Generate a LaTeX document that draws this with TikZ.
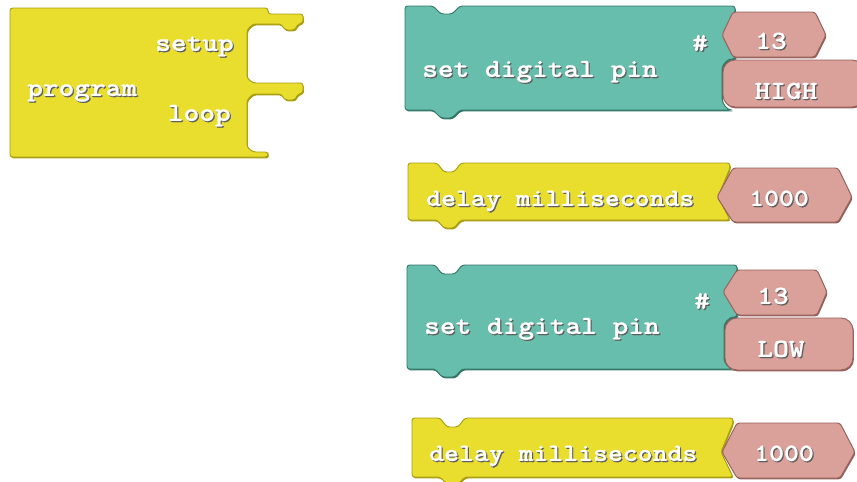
\documentclass[tikz,border=0pt]{standalone}
\usepackage{fontspec}
\newfontfamily\blkfont{lmmonolt10-bold.otf}[FakeStretch=1.15, FakeBold=0.9]
\usetikzlibrary{positioning}

\definecolor{blkyel}{RGB}{233,221,46}
\definecolor{blkyeldk}{RGB}{168,158,18}
\definecolor{blkteal}{RGB}{103,190,172}
\definecolor{blktealdk}{RGB}{52,118,103}
\definecolor{blkpink}{RGB}{218,160,154}
\definecolor{blkpinkdk}{RGB}{150,96,90}
\definecolor{txtshade}{RGB}{95,95,95}

\newcommand\shtxt[1]{\leavevmode\rlap{\kern0.9pt\raisebox{-0.9pt}{\textcolor{txtshade}{#1}}}#1}

\tikzset{
  yelblk/.style={fill=blkyel, draw=blkyeldk, line width=0.7pt, rounded corners=2pt,
    preaction={fill=blkyeldk, transform canvas={shift={(0.9,1.4)}}}},
  tealblk/.style={fill=blkteal, draw=blktealdk, line width=0.7pt, rounded corners=2pt,
    preaction={fill=blktealdk, transform canvas={shift={(0.9,1.4)}}}},
  pinkblk/.style={fill=blkpink, draw=blkpinkdk, line width=0.7pt, rounded corners=2pt,
    preaction={fill=blkpinkdk, transform canvas={shift={(0.9,1.4)}}}},
  lbl/.style={inner sep=0pt, text=white, font=\blkfont\fontsize{19.5}{20}\selectfont,
    text height=1.45ex, text depth=0.45ex, yshift=-4.5pt},
  dlbl/.style={lbl, font=\blkfont\fontsize{18.5}{20}\selectfont}
}

\begin{document}
\begin{tikzpicture}[x=0.75pt, y=-0.75pt]
  \useasboundingbox (0,0) rectangle (857,482);

  % program block
  \draw[yelblk] (10,8) -- (268,8) -- (268,14) -- (303,14) -- (303,23) -- (298,24)
    -- (295,30) -- (285,30) -- (281,24) -- (253,24) -- (247,30) -- (247,78)
    -- (253,83) -- (303,83) -- (303,93) -- (298,94) -- (295,100) -- (285,100)
    -- (281,94) -- (253,94) -- (247,100) -- (247,147) -- (253,152) -- (268,152)
    -- (268,157) -- (10,157) -- cycle;
  \node[lbl, anchor=west] (prog) at (27,87) {\shtxt{program}};
  \node[lbl, anchor=east] (setup) at (234,42) {\shtxt{setup}};
  \node[lbl, anchor=east] (loop) at (231,112) {\shtxt{loop}};

  % set digital pin HIGH
  \draw[tealblk] (405,6) -- (433,6) -- (441,14) -- (452,14) -- (460,6) -- (735,6)
    -- (735,13) -- (724,35) -- (735,57) -- (735,59) -- (734,59)
    to[out=180,in=90] (722,72) -- (722,96) to[out=-90,in=180] (734,110)
    -- (460,110) -- (452,118) -- (441,118) -- (433,110) -- (405,110) -- cycle;
  \draw[pinkblk] (722,35) -- (733,12) -- (815,12) -- (826,35) -- (815,57) -- (733,57) -- cycle;
  \draw[pinkblk, rounded corners=9pt] (723,60) rectangle (864,107);
  \node[lbl, anchor=west] (pin1) at (422,68) {\shtxt{set digital pin}};
  \node[lbl] (hash1) at (700,42) {\shtxt{\#}};
  \node[lbl] (num1) at (771,40) {\shtxt{13}};
  \node[lbl] (high) at (786,90) {\shtxt{HIGH}};

  % delay 1
  \draw[yelblk] (408,163) -- (437,163) -- (444,172) -- (454,172) -- (461,163)
    -- (730,163) -- (730,168) -- (718,197) -- (730,220) -- (461,220) -- (454,228)
    -- (444,228) -- (437,220) -- (408,220) -- cycle;
  \draw[pinkblk] (717,197) -- (733,168) -- (838,168) -- (852,197) -- (838,222) -- (733,222) -- cycle;
  \node[dlbl, anchor=west] (dly1) at (426,197) {\shtxt{delay milliseconds}};
  \node[dlbl] (ms1) at (779,197) {\shtxt{1000}};

  % set digital pin LOW
  \draw[tealblk] (407,265) -- (435,265) -- (442,274) -- (455,274) -- (462,265) -- (737,265)
    -- (737,271) -- (725,292) -- (737,314) -- (737,317) -- (736,317)
    to[out=180,in=90] (724,330) -- (724,356) to[out=-90,in=180] (736,369)
    -- (462,369) -- (455,377) -- (442,377) -- (435,369) -- (407,369) -- cycle;
  \draw[pinkblk] (723,292) -- (737,270) -- (817,270) -- (827,292) -- (817,315) -- (737,315) -- cycle;
  \draw[pinkblk, rounded corners=9pt] (725,318) rectangle (853,370);
  \node[lbl, anchor=west] (pin2) at (424,325) {\shtxt{set digital pin}};
  \node[lbl] (hash2) at (702,300) {\shtxt{\#}};
  \node[lbl] (num2) at (773,295) {\shtxt{13}};
  \node[lbl] (low) at (781,348) {\shtxt{LOW}};

  % delay 2
  \draw[yelblk] (412,418) -- (440,418) -- (447,427) -- (458,427) -- (465,418)
    -- (733,418) -- (733,423) -- (721,452) -- (733,477) -- (465,477) -- (458,484)
    -- (447,484) -- (440,477) -- (412,477) -- cycle;
  \draw[pinkblk] (722,452) -- (737,423) -- (840,423) -- (855,452) -- (840,478) -- (737,478) -- cycle;
  \node[dlbl, anchor=west] (dly2) at (429,452) {\shtxt{delay milliseconds}};
  \node[dlbl] (ms2) at (784,452) {\shtxt{1000}};
\end{tikzpicture}
\end{document}
